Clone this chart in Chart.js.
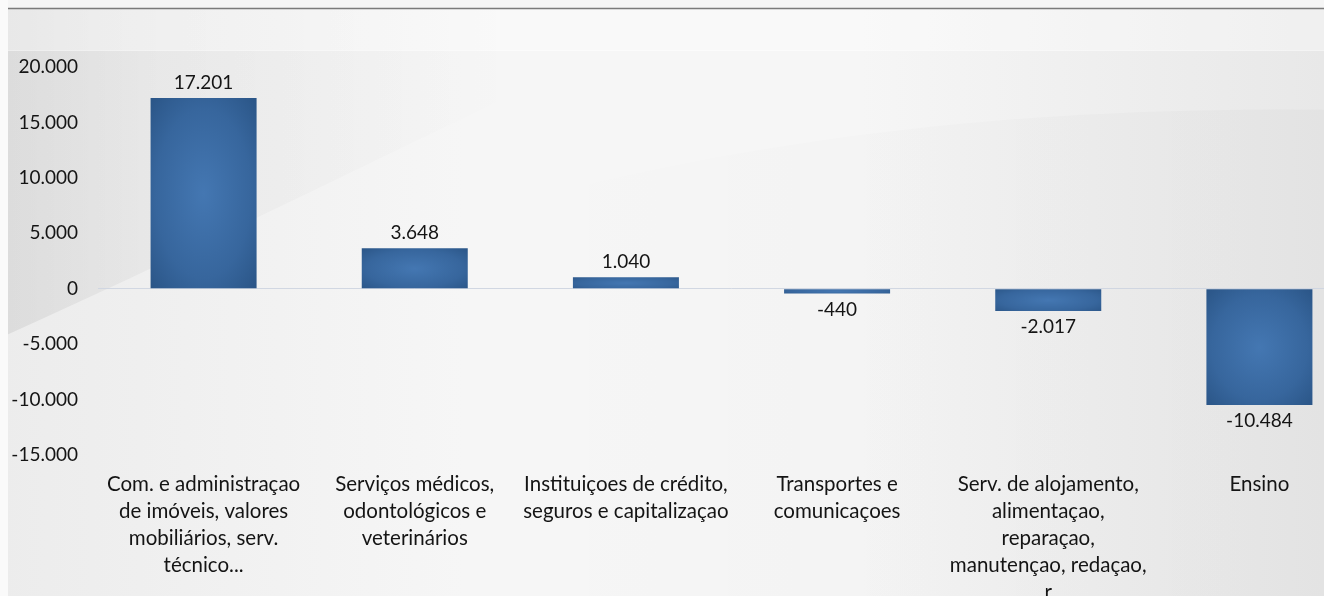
<!DOCTYPE html>
<html>
<head>
<meta charset="utf-8">
<script src="https://cdn.jsdelivr.net/npm/chart.js"></script>
<style>
  html, body { margin: 0; padding: 0; overflow: hidden; background: #f2f2f2; }
  #frame { position: relative; width: 1324px; height: 596px; overflow: hidden; }
  #wrap { position: absolute; left: 0; top: 0; width: 1365px; height: 640px; }
</style>
</head>
<body>
<div id="frame"><div id="wrap"><canvas id="chart"></canvas></div></div>
<script>
// Data
const categories = [
    ['Com. e administraçao', 'de imóveis, valores', 'mobiliários, serv.', 'técnico...'],
    ['Serviços médicos,', 'odontológicos e', 'veterinários'],
    ['Instituiçoes de crédito,', 'seguros e capitalizaçao'],
    ['Transportes e', 'comunicaçoes'],
    ['Serv. de alojamento,', 'alimentaçao,', 'reparaçao,', 'manutençao, redaçao,', 'r'],
    ['Ensino']
];
const values = [17201, 3648, 1040, -440, -2017, -10484];
const yMin = -15000;
const yMax = 20000;
const yStep = 5000;

const fmt = v => (v < 0 ? '-' : '') + Math.abs(v).toString().replace(/\B(?=(\d{3})+(?!\d))/g, '.');

const FONT = 'Lato, "Open Sans", sans-serif';
const TEXT = '#141414';
const BAR_PCT = 0.502;

// light grey slide background with the swoosh and the top rule
const backdrop = {
    id: 'backdrop',
    beforeDraw(chart) {
        const c = chart.ctx, W = chart.width, H = chart.height;
        c.save();
        let g = c.createLinearGradient(0, 0, 1324, 0);
        g.addColorStop(0, '#ececec');
        g.addColorStop(0.35, '#f6f6f6');
        g.addColorStop(0.65, '#f6f6f6');
        g.addColorStop(1, '#e8e8e8');
        c.fillStyle = g;
        c.fillRect(0, 0, W, H);

        // darker wedge in the upper left
        c.beginPath();
        c.moveTo(0, 8);
        c.lineTo(700, 8);
        c.bezierCurveTo(450, 120, 230, 235, 0, 338);
        c.closePath();
        g = c.createLinearGradient(0, 0, 520, 0);
        g.addColorStop(0, 'rgba(0,0,0,0.07)');
        g.addColorStop(0.3, 'rgba(0,0,0,0.03)');
        g.addColorStop(1, 'rgba(0,0,0,0)');
        c.fillStyle = g;
        c.fill();

        // soft swoosh on the right
        c.beginPath();
        c.moveTo(520, 200);
        c.bezierCurveTo(800, 130, 1050, 105, W, 110);
        c.lineTo(W, H);
        c.lineTo(520, H);
        c.closePath();
        g = c.createLinearGradient(520, 0, 1324, 0);
        g.addColorStop(0, 'rgba(0,0,0,0)');
        g.addColorStop(1, 'rgba(0,0,0,0.025)');
        c.fillStyle = g;
        c.fill();

        // pale band under the top rule
        c.fillStyle = 'rgba(255,255,255,0.35)';
        c.fillRect(0, 8, W, 42);
        c.fillStyle = 'rgba(255,255,255,0.5)';
        c.fillRect(0, 50, W, 1);

        c.fillStyle = '#f5f5f5';
        c.fillRect(0, 0, W, 8);
        c.strokeStyle = '#7a7a7a';
        c.lineWidth = 1.5;
        c.beginPath();
        c.moveTo(8, 8.5);
        c.lineTo(W, 8.5);
        c.stroke();
        c.fillStyle = '#fafafa';
        c.fillRect(0, 0, 8, H);
        c.restore();
    }
};

// value labels above / below the bars
const valueLabels = {
    id: 'valueLabels',
    afterDatasetsDraw(chart) {
        const c = chart.ctx;
        const meta = chart.getDatasetMeta(0);
        c.save();
        c.font = '19px ' + FONT;
        c.fillStyle = TEXT;
        c.textAlign = 'center';
        c.textBaseline = 'middle';
        meta.data.forEach((bar, i) => {
            const v = values[i];
            const y = v >= 0 ? bar.y - 15 : bar.y + 16;
            c.fillText(fmt(v), bar.x, y);
        });
        c.restore();
    }
};

// elliptical shading, lighter in the middle of each bar
function barFill(ctx) {
    const chart = ctx.chart;
    if (ctx.type !== 'data' || !chart.chartArea) return '#3a68a0';
    const xs = chart.scales.x, ys = chart.scales.y;
    const cx = xs.getPixelForValue(ctx.dataIndex);
    const bw = (xs.getPixelForValue(1) - xs.getPixelForValue(0)) * BAR_PCT;
    const y0 = ys.getPixelForValue(0), y1 = ys.getPixelForValue(ctx.raw);
    const top = Math.min(y0, y1);
    const h = Math.max(Math.abs(y1 - y0), 2);
    const off = document.createElement('canvas');
    off.width = Math.ceil(bw) + 2;
    off.height = Math.ceil(h) + 2;
    const oc = off.getContext('2d');
    oc.translate(off.width / 2, off.height / 2);
    oc.scale(off.width / 2, off.height / 2);
    const g = oc.createRadialGradient(0, 0, 0, 0, 0, 1.35);
    g.addColorStop(0, '#4477b2');
    g.addColorStop(0.65, '#37669d');
    g.addColorStop(1, '#2b5688');
    oc.fillStyle = g;
    oc.fillRect(-1, -1, 2, 2);
    const p = chart.ctx.createPattern(off, 'no-repeat');
    p.setTransform(new DOMMatrix([1, 0, 0, 1, cx - off.width / 2, top - 1]));
    return p;
}

const ctx = document.getElementById('chart').getContext('2d');

new Chart(ctx, {
    type: 'bar',
    data: {
        labels: categories,
        datasets: [{
            data: values,
            backgroundColor: barFill,
            borderWidth: 0,
            categoryPercentage: 1,
            barPercentage: BAR_PCT
        }]
    },
    options: {
        responsive: true,
        maintainAspectRatio: false,
        animation: false,
        layout: { padding: { top: 67, left: 0, right: 0, bottom: 0 } },
        plugins: {
            legend: { display: false },
            tooltip: { enabled: false }
        },
        scales: {
            x: {
                grid: { display: false, drawTicks: false },
                border: { display: false },
                ticks: {
                    color: TEXT,
                    font: { family: FONT, size: 20.5, lineHeight: 27 / 20.5 },
                    padding: 16,
                    maxRotation: 0,
                    autoSkip: false
                },
                afterFit: s => { s.height = 185; }
            },
            y: {
                min: yMin,
                max: yMax,
                grid: {
                    drawTicks: false,
                    color: c => c.tick && c.tick.value === 0 ? 'rgba(205,212,224,0.9)' : 'rgba(0,0,0,0)'
                },
                border: { display: false },
                ticks: {
                    stepSize: yStep,
                    color: TEXT,
                    font: { family: FONT, size: 19 },
                    padding: 20,
                    callback: v => fmt(v)
                },
                afterFit: s => { s.width = 98; }
            }
        }
    },
    plugins: [backdrop, valueLabels]
});
</script>
</body>
</html>
